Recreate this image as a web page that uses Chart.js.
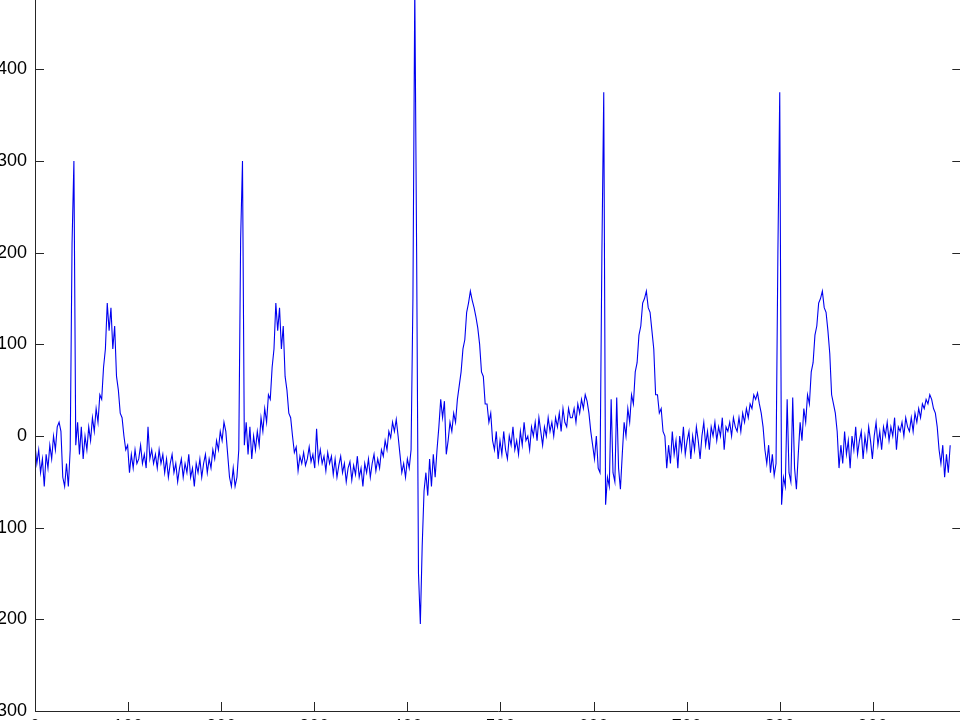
<!DOCTYPE html>
<html>
<head>
<meta charset="utf-8">
<script src="https://cdn.jsdelivr.net/npm/chart.js@4.4.1/dist/chart.umd.min.js"></script>
<style>
  html, body { margin: 0; padding: 0; background: #fff; overflow: hidden; width: 960px; height: 720px; }
  /* the figure is cropped: the plot box runs past the window edges */
  #wrap { position: absolute; left: -60px; top: -60px; width: 1100px; height: 860px; }
</style>
</head>
<body>
<div id="wrap"><canvas id="ecg"></canvas></div>
<script>
// one sample every SAMPLE_STEP x-units
const SAMPLE_STEP = 1.99;

// ECG trace, 10 samples per row
const ecgValues = [
  -10, -30, -15, -40, -25, -55, -20, -35, -10, -25,
  0, -15, 10, 15, 5, -45, -55, -30, -55, -15,
  210, 300, -10, 15, -20, 10, -25, 0, -15, 10,
  -5, 20, 5, 30, 15, 45, 40, 75, 95, 145,
  115, 140, 95, 120, 65, 50, 25, 20, 0, -15,
  -10, -40, -20, -35, -15, -30, -25, -10, -30, -20,
  -35, 10, -25, -15, -30, -20, -35, -15, -30, -20,
  -40, -25, -45, -30, -20, -40, -30, -50, -35, -25,
  -45, -30, -40, -20, -45, -35, -55, -30, -40, -25,
  -45, -30, -20, -40, -25, -35, -15, -25, -5, -15,
  5, -5, 15, 5, -20, -45, -55, -35, -55, -45,
  -15, 215, 300, -10, 15, -20, 10, -25, 0, -15,
  5, -10, 20, 5, 30, 15, 45, 40, 75, 95,
  145, 115, 140, 95, 120, 65, 50, 25, 20, 0,
  -18, -12, -38, -22, -30, -18, -32, -25, -12, -28,
  -20, -35, 8, -28, -15, -30, -22, -38, -18, -30,
  -22, -42, -25, -45, -32, -22, -40, -30, -50, -35,
  -28, -48, -32, -42, -22, -45, -35, -55, -30, -40,
  -25, -45, -30, -20, -38, -25, -35, -15, -22, -5,
  -15, 5, -2, 15, 5, 18, 0, -20, -40, -30,
  -45, -25, -35, -15, 150, 490, 200, -150, -205, -120,
  -60, -40, -65, -25, -55, -20, -45, -15, 10, 40,
  20, 38, -20, -5, 15, 5, 25, 15, 40, 55,
  70, 95, 105, 135, 145, 158, 148, 140, 130, 118,
  100, 70, 65, 35, 35, 15, 25, -5, -15, 5,
  -25, -5, -20, 5, -15, -25, 0, -10, 10, -15,
  -5, -20, 5, -10, 15, -5, 0, -15, 10, 0,
  15, -5, 20, 5, -10, 10, 0, 20, 5, 15,
  0, 20, 10, 25, 5, 30, 15, 10, 30, 20,
  20, 30, 15, 35, 25, 40, 30, 45, 38, 25,
  5, -10, -25, 0, -35, -40, 200, 375, -75, -45,
  -55, 40, -40, -50, 42, -35, -58, -20, 15, 0,
  30, 15, 45, 35, 70, 80, 110, 120, 145, 150,
  158, 140, 135, 115, 95, 45, 45, 25, 30, 5,
  0, -35, -10, -30, 5, -20, -5, -35, 0, -15,
  10, -20, -5, 5, -25, 0, -15, 10, -5, -25,
  0, 15, -10, 5, -15, 10, 0, 15, -5, 10,
  0, 20, -15, 10, 5, 15, 0, 20, 10, 5,
  20, 5, 25, 15, 30, 20, 35, 30, 45, 40,
  47, 35, 25, 10, -15, -30, -10, -40, -20, -43,
  -30, 200, 375, -75, -45, -55, 40, -40, -50, 42,
  -35, -58, -20, 15, -5, 30, 15, 45, 35, 70,
  80, 110, 120, 145, 150, 158, 140, 135, 115, 90,
  45, 35, 25, 5, -35, -10, -30, 5, -20, -5,
  -35, 0, -15, 10, -20, -5, 5, -25, 0, -15,
  10, -5, -25, 0, 15, -10, 5, -15, 10, 0,
  15, -5, 10, 0, 20, -15, 10, 5, 15, 0,
  20, 10, 5, 20, 5, 25, 15, 30, 20, 35,
  30, 40, 35, 45, 40, 30, 25, 10, -15, -30,
  -10, -45, -20, -40, -10
];

const xTickValues = [0, 100, 200, 300, 400, 500, 600, 700, 800, 900];
const yTickValues = [-300, -200, -100, 0, 100, 200, 300, 400, 500];
const xMin = 0, xMax = 995;
const yMin = -300, yMax = 500;

const points = ecgValues.map((v, i) => ({ x: i * SAMPLE_STEP, y: v }));

// MATLAB-style box with ticks pointing inwards
const matlabAxes = {
  id: 'matlabAxes',
  afterDraw(chart) {
    const { ctx, chartArea: a, scales: { x, y } } = chart;
    ctx.save();
    ctx.strokeStyle = '#262626';
    ctx.lineWidth = 1;
    ctx.beginPath();
    ctx.rect(a.left + 0.5, a.top + 0.5, a.right - a.left, a.bottom - a.top);
    x.ticks.forEach(t => {
      const px = Math.round(x.getPixelForValue(t.value)) + 0.5;
      ctx.moveTo(px, a.bottom); ctx.lineTo(px, a.bottom - 9);
      ctx.moveTo(px, a.top); ctx.lineTo(px, a.top + 9);
    });
    y.ticks.forEach(t => {
      const py = Math.round(y.getPixelForValue(t.value)) + 0.5;
      ctx.moveTo(a.left, py); ctx.lineTo(a.left + 9, py);
      ctx.moveTo(a.right, py); ctx.lineTo(a.right - 9, py);
    });
    ctx.stroke();
    ctx.restore();
  }
};

const ctx = document.getElementById('ecg').getContext('2d');
new Chart(ctx, {
  type: 'line',
  data: {
    datasets: [{
      data: points,
      borderColor: '#0000f0',
      borderWidth: 1.1,
      pointRadius: 0,
      tension: 0,
      fill: false
    }]
  },
  options: {
    responsive: true,
    maintainAspectRatio: false,
    animation: false,
    events: [],
    layout: { padding: { left: 0, right: 78.7, top: 37.7, bottom: 49 } },
    plugins: { legend: { display: false }, tooltip: { enabled: false } },
    scales: {
      x: {
        type: 'linear',
        min: xMin,
        max: xMax,
        grid: { display: false, drawTicks: false },
        border: { display: false },
        afterBuildTicks: s => { s.ticks = xTickValues.map(v => ({ value: v })); },
        afterFit: s => { s.height = 40; },
        ticks: { color: '#000', padding: 5, maxRotation: 0, autoSkip: false,
                 font: { family: 'Liberation Sans, Arial, sans-serif', size: 18 } }
      },
      y: {
        min: yMin,
        max: yMax,
        grid: { display: false, drawTicks: false },
        border: { display: false },
        afterBuildTicks: s => { s.ticks = yTickValues.map(v => ({ value: v })); },
        afterFit: s => { s.width = 95; },
        ticks: { color: '#000', padding: 8, autoSkip: false,
                 font: { family: 'Liberation Sans, Arial, sans-serif', size: 18 } }
      }
    }
  },
  plugins: [matlabAxes]
});
</script>
</body>
</html>
